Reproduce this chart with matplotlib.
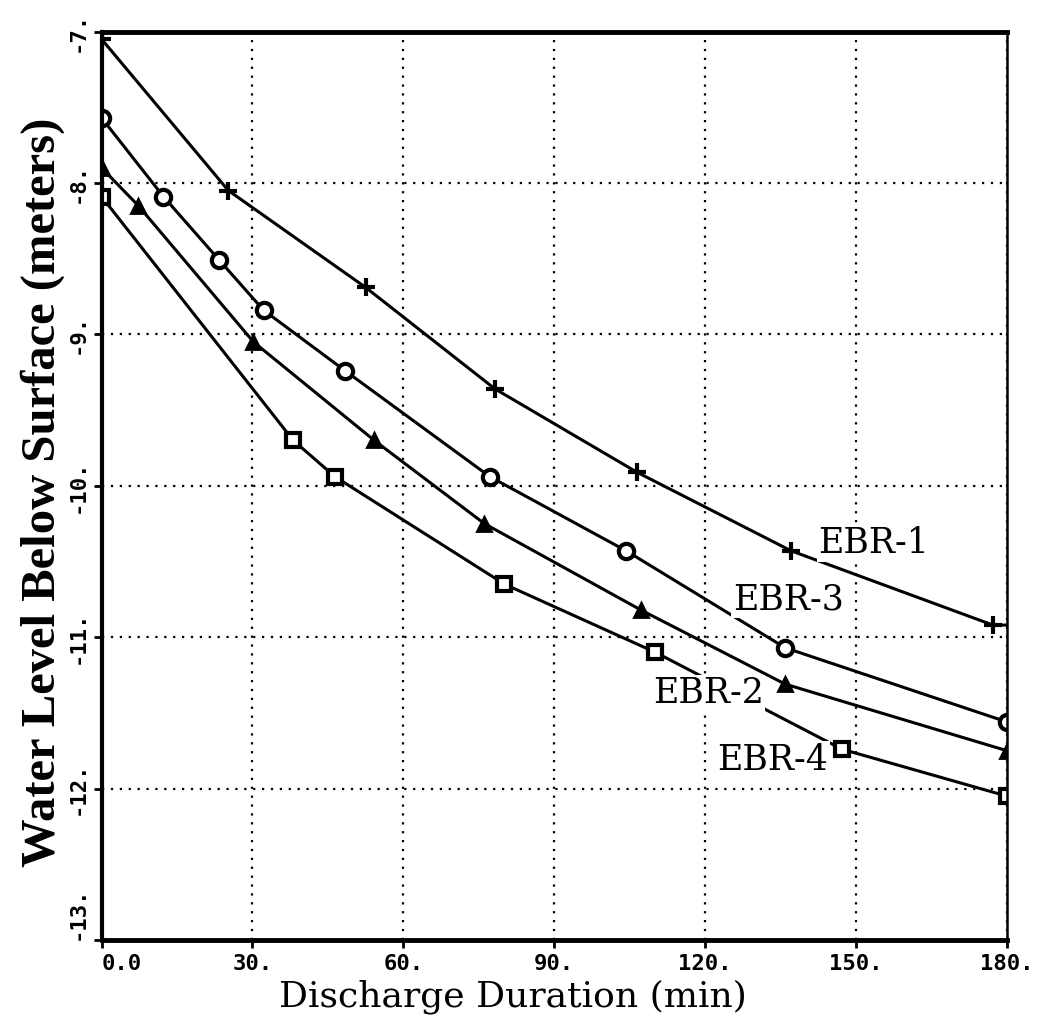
import matplotlib
matplotlib.use("Agg")
import matplotlib.pyplot as plt

# values
ebr1_t = [0, 25.2, 52.5, 78.2, 106.4, 137.1, 177.2, 180]
ebr1_h = [-7.05, -8.05, -8.69, -9.36, -9.91, -10.43, -10.92, -10.92]

ebr3_t = [0, 12.3, 23.4, 32.2, 48.4, 77.2, 104.3, 135.9, 180]
ebr3_h = [-7.57, -8.09, -8.51, -8.84, -9.24, -9.94, -10.43, -11.07, -11.56]

ebr2_t = [0, 7.3, 30.2, 54.2, 76.1, 107.2, 135.9, 180]
ebr2_h = [-7.90, -8.15, -9.05, -9.70, -10.25, -10.82, -11.31, -11.75]

ebr4_t = [0, 38.1, 46.4, 80.1, 110.1, 147.2, 180]
ebr4_h = [-8.09, -9.70, -9.94, -10.65, -11.10, -11.74, -12.05]

x_ticks = [0, 30, 60, 90, 120, 150, 180]
x_labels = ["0.0", "30.", "60.", "90.", "120.", "150.", "180."]
y_ticks = [-13, -12, -11, -10, -9, -8, -7]
y_labels = ["-13.", "-12.", "-11.", "-10.", "-9.", "-8.", "-7."]

labels = ["EBR-1", "EBR-3", "EBR-2", "EBR-4"]
label_pos = [(142.4, -10.38), (125.5, -10.75), (109.6, -11.37), (122.4, -11.81)]

fig = plt.figure(figsize=(10.49, 10.27), dpi=100)
ax = fig.add_axes([0.0968, 0.0847, 0.8632, 0.8846])

line_kw = dict(color="black", lw=2.2)
ax.plot(ebr1_t, ebr1_h, marker="+", ms=13, mew=3,
        markevery=list(range(len(ebr1_t) - 1)), **line_kw)
ax.plot(ebr3_t, ebr3_h, marker="o", ms=11, mew=3, mfc="white", **line_kw)
ax.plot(ebr2_t, ebr2_h, marker="^", ms=10, mew=2, mfc="black", **line_kw)
ax.plot(ebr4_t, ebr4_h, marker="s", ms=10, mew=3, mfc="white", **line_kw)

for txt, (tx, ty) in zip(labels, label_pos):
    ax.text(tx, ty, txt, fontsize=25, family="DejaVu Serif", ha="left", va="center",
            bbox=dict(facecolor="white", edgecolor="none", pad=1), zorder=5)

ax.set_xlim(0, 180)
ax.set_ylim(-13, -7)
ax.set_xticks(x_ticks)
ax.set_xticklabels(x_labels, family="DejaVu Sans Mono", fontweight="bold", fontsize=16)
ax.get_xticklabels()[0].set_ha("left")
ax.set_yticks(y_ticks)
ax.set_yticklabels(y_labels, family="DejaVu Sans Mono", fontweight="bold", fontsize=16,
                   rotation=90, va="center")
ax.get_yticklabels()[0].set_va("bottom")
ax.tick_params(length=6, width=2, direction="out", pad=4)

ax.grid(True, linestyle=(0, (1, 3)), color="black", lw=1.6)
ax.spines["left"].set_linewidth(3)
ax.spines["bottom"].set_linewidth(3.5)
ax.spines["top"].set_linewidth(3.5)
ax.spines["right"].set_linewidth(1.8)

ax.set_xlabel("Discharge Duration (min)", family="DejaVu Serif", fontsize=26)
ax.xaxis.set_label_coords(0.454, -0.043)
ax.set_ylabel("Water Level Below Surface (meters)", family="Liberation Serif",
              fontweight="bold", fontsize=35)
ax.yaxis.set_label_coords(-0.040, 0.493)

fig.savefig("out.png", dpi=100)
